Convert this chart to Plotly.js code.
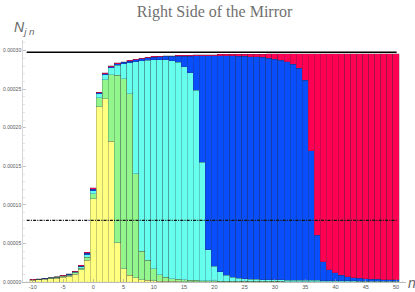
<!DOCTYPE html>
<html>
<head>
<meta charset="utf-8">
<script src="https://cdn.plot.ly/plotly-3.0.1.min.js"></script>
<style>html,body{margin:0;padding:0;background:#fff;}#chart{width:415px;height:292px;}</style>
</head>
<body>
<div id="chart"></div>
<script>
// n = -10 .. 50
const ns = [-10,-9,-8,-7,-6,-5,-4,-3,-2,-1,0,1,2,3,4,5,6,7,8,9,10,11,12,13,14,15,16,17,18,19,20,21,22,23,24,25,26,27,28,29,30,31,32,33,34,35,36,37,38,39,40,41,42,43,44,45,46,47,48,49,50];

// component values, in units of 1e-5
const yellowVals = [0.24,0.29,0.35,0.42,0.51,0.62,0.76,1.02,1.56,2.8,
  10.81,22.69,23.78,18.24,5.06,1.74,0.87,0.52,0.31,0.22,
  0.17,0.13,0.1,0.08,0.07,0.06,0.05,0.045,0.04,0.035,
  0.03,0.028,0.026,0.024,0.022,0.02,0.019,0.018,0.017,0.016,
  0.015,0.014,0.013,0.012,0.012,0.011,0.011,0.01,0.01,0.009,
  0.009,0.008,0.008,0.007,0.007,0.007,0.006,0.006,0.006,0.005,0.005];
const greenVals = [0.04,0.05,0.055,0.066,0.08,0.097,0.12,0.16,0.245,0.44,
  0.65,1.21,2.46,8.65,21.74,24.63,23.56,13.53,3.69,2.58,
  1.57,0.8,0.52,0.37,0.28,0.22,0.19,0.155,0.14,0.125,
  0.11,0.1,0.09,0.085,0.08,0.075,0.07,0.066,0.062,0.058,
  0.055,0.052,0.05,0.048,0.046,0.044,0.042,0.04,0.038,0.036,
  0.034,0.032,0.03,0.029,0.028,0.027,0.026,0.025,0.024,0.023,0.022];
const cyanVals = [0.025,0.03,0.038,0.046,0.056,0.068,0.085,0.11,0.17,0.31,
  0.34,0.53,0.65,0.86,1.3,1.93,4.0,14.5,24.66,25.98,
  27.09,27.9,28.18,28.21,28.15,27.62,26.86,24.65,15.32,4.04,
  1.93,1.22,0.734,0.511,0.398,0.335,0.291,0.266,0.241,0.226,
  0.21,0.194,0.187,0.18,0.172,0.165,0.157,0.15,0.142,0.135,
  0.127,0.12,0.112,0.104,0.095,0.086,0.078,0.069,0.06,0.052,0.043];
const blueVals = [0.015,0.018,0.022,0.027,0.031,0.037,0.047,0.062,0.1,0.17,
  0.22,0.12,0.14,0.16,0.18,0.2,0.22,0.25,0.28,0.3,
  0.34,0.38,0.44,0.6,0.78,1.4,2.2,4.47,13.83,25.14,
  27.28,28.0,28.49,28.7,28.8,28.84,28.85,28.83,28.79,28.72,
  28.59,28.47,28.28,27.99,27.51,25.97,16.79,5.85,2.41,1.42,
  1.0,0.74,0.55,0.43,0.35,0.3,0.26,0.23,0.21,0.2,0.19];
const redVals = [0.01,0.012,0.015,0.021,0.023,0.028,0.038,0.048,0.075,0.13,
  0.18,0.08,0.12,0.13,0.15,0.08,0.08,0.08,0.08,0.09,
  0.09,0.09,0.09,0.1,0.1,0.1,0.12,0.12,0.13,0.13,
  0.13,0.15,0.17,0.2,0.23,0.27,0.32,0.38,0.45,0.55,
  0.7,0.85,1.05,1.35,1.85,3.4,12.59,23.55,27.0,28.0,
  28.43,28.7,28.9,29.03,29.12,29.18,29.23,29.27,29.3,29.32,29.34];
const unit = 1e-5;

const limitLevel = 29.79;   // solid reference line (1e-5)
const halfLevel = 8.0;      // dash-dot line (1e-5)

const xTickVals = [-10,-5,0,5,10,15,20,25,30,35,40,45,50];
const xTickText = ["-10","-5","0","5","10","15","20","25","30","35","40","45","50"];
const yTickVals = [0,5e-5,10e-5,15e-5,20e-5,25e-5,30e-5];
const yTickText = ["0.00000","0.00005","0.00010","0.00015","0.00020","0.00025","0.00030"];

const series = [
  {name:"j=1", vals: yellowVals, color:"rgb(255,255,128)"},
  {name:"j=2", vals: greenVals,  color:"rgb(146,246,140)"},
  {name:"j=3", vals: cyanVals,   color:"rgb(102,255,238)"},
  {name:"j=4", vals: blueVals,   color:"rgb(8,78,250)"},
  {name:"j=5", vals: redVals,    color:"rgb(255,0,82)"}
];

const traces = series.map(s => ({
  type: "bar",
  x: ns,
  y: s.vals.map(v => v * unit),
  name: s.name,
  width: 1,
  marker: {color: s.color, line: {color: "rgba(40,40,60,0.35)", width: 0.7}},
  hoverinfo: "skip"
}));

const layout = {
  width: 415, height: 292,
  margin: {l: 23, r: 9, t: 40, b: 10, pad: 0},
  paper_bgcolor: "#fff", plot_bgcolor: "#fff",
  barmode: "stack", bargap: 0, showlegend: false,
  title: {
    text: "Right Side of the Mirror",
    font: {family: "Liberation Serif, Times New Roman, serif", size: 16, color: "#707070"},
    xref: "container", yref: "container", x: 0.517, xanchor: "center", y: 0.962, yanchor: "middle"
  },
  xaxis: {
    range: [-11.61, 51.65],
    tickmode: "array", tickvals: xTickVals, ticktext: xTickText,
    ticks: "inside", ticklen: 3, tickcolor: "#999", tickwidth: 0.6,
    minor: {ticks: "inside", tick0: 0, dtick: 1, ticklen: 1.5, tickcolor: "#bbb", tickwidth: 0.5, showgrid: false},
    showline: true, linecolor: "#aaa", linewidth: 0.8,
    showgrid: false, zeroline: false,
    tickfont: {family: "Liberation Sans, Arial, sans-serif", size: 5.5, color: "#555"}
  },
  yaxis: {
    range: [0, 3.1376e-4],
    tickmode: "array", tickvals: yTickVals, ticktext: yTickText,
    ticks: "inside", ticklen: 3, tickcolor: "#aaa", tickwidth: 0.6,
    minor: {ticks: "inside", tick0: 0, dtick: 1e-5, ticklen: 1.5, tickcolor: "#ccc", tickwidth: 0.5, showgrid: false},
    showline: true, linecolor: "#ccc", linewidth: 0.8,
    showgrid: false, zeroline: false,
    tickfont: {family: "Liberation Sans, Arial, sans-serif", size: 5, color: "#555"}
  },
  shapes: [
    {type: "line", xref: "x", yref: "y", x0: -11, x1: 50.1, y0: limitLevel * unit, y1: limitLevel * unit,
     line: {color: "#000", width: 1.6}},
    {type: "line", xref: "x", yref: "y", x0: -11, x1: 50.1, y0: halfLevel * unit, y1: halfLevel * unit,
     line: {color: "#111", width: 1.2, dash: "3px,1.2px,1px,1.2px"}}
  ],
  annotations: [
    {text: "<i>N</i><sub><i>j n</i></sub>", xref: "paper", yref: "paper",
     x: -0.028, xanchor: "left", y: 1.05, yanchor: "middle", showarrow: false,
     font: {family: "Liberation Sans, Arial, sans-serif", size: 14, color: "#666"}},
    {text: "<i>n</i>", xref: "paper", yref: "paper",
     x: 1.0, xanchor: "left", y: -0.004, yanchor: "middle", showarrow: false,
     font: {family: "Liberation Sans, Arial, sans-serif", size: 14, color: "#666"}}
  ]
};

Plotly.newPlot("chart", traces, layout, {staticPlot: true, displayModeBar: false});
</script>
</body>
</html>
